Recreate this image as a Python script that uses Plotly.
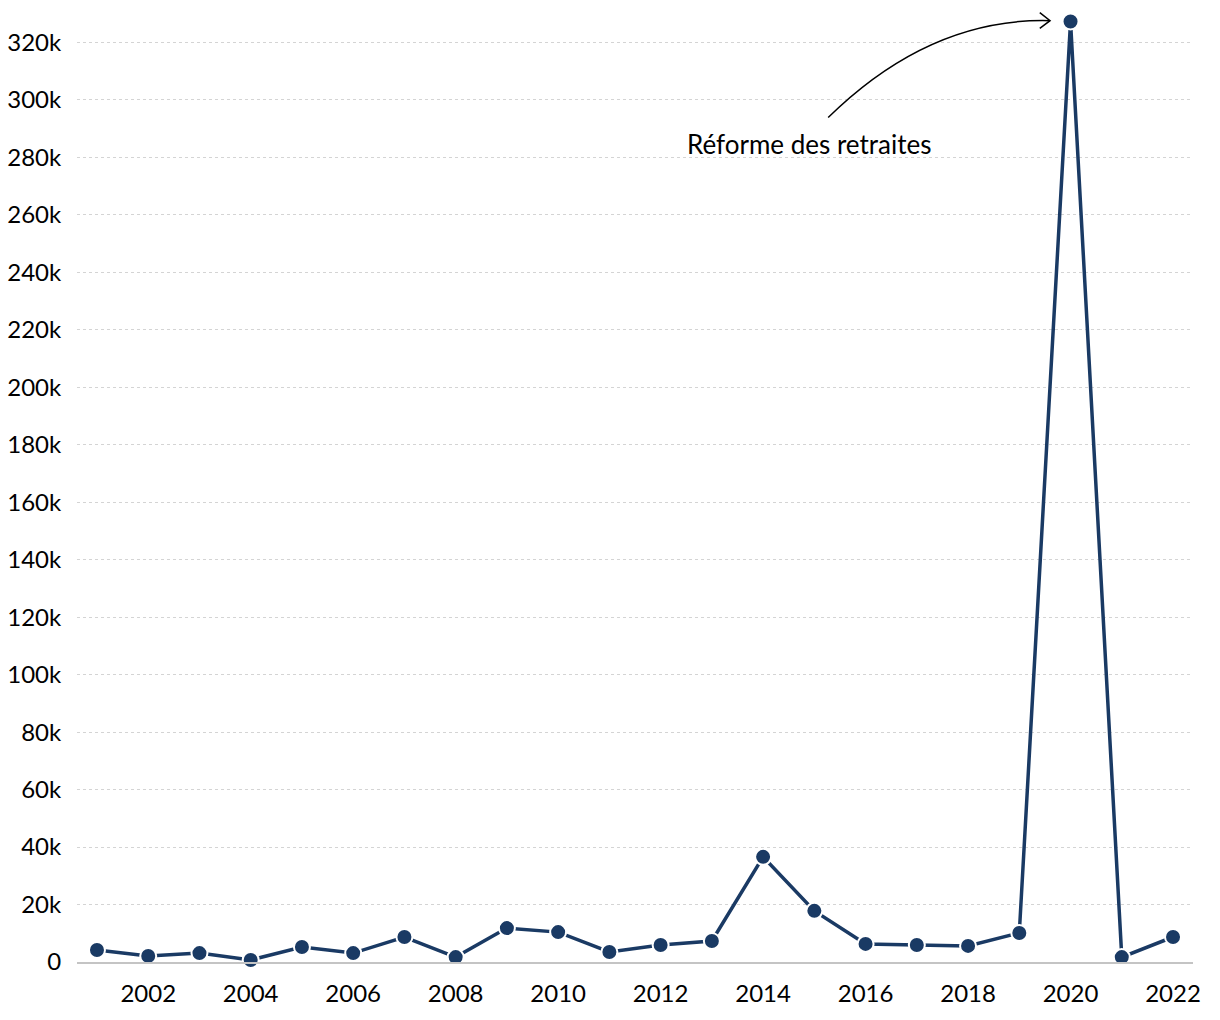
import plotly.graph_objects as go

years = list(range(2001, 2023))
values = [4200, 2100, 3100, 700, 5200, 3100, 8700, 1700, 11800, 10400, 3500, 5900,
          7300, 36600, 17800, 6300, 5900, 5600, 10100, 327300, 1700, 8700]

annot_text = "Réforme des retraites"
color = "#1a3a64"
font = "Source Sans Pro, Lato, sans-serif"

fig = go.Figure()
fig.add_trace(go.Scatter(
    x=years, y=values, mode="lines+markers",
    line=dict(color=color, width=3.5),
    marker=dict(size=16, color=color, line=dict(color="white", width=2)),
    cliponaxis=False, hoverinfo="x+y"
))

# curved arrow (quadratic bezier) from label to peak
sx, sy = 2015.27, 293900
cx, cy = 2017.26, 328700
ex, ey = 2019.60, 327600
fig.add_shape(type="path", xref="x", yref="y",
              path=f"M {sx},{sy} Q {cx},{cy} {ex},{ey}",
              line=dict(color="black", width=1.5), layer="above")
fig.add_shape(type="path", xref="x", yref="y",
              path=f"M 2019.40,330400 L {ex},{ey} L 2019.40,324900",
              line=dict(color="black", width=1.5), layer="above")

fig.add_annotation(x=2014.90, y=284500, text=annot_text, showarrow=False,
                   font=dict(family=font, size=26, color="black"),
                   xanchor="center", yanchor="middle")

fig.update_layout(
    width=1220, height=1020,
    margin=dict(l=77, r=27, t=8, b=58),
    plot_bgcolor="white", paper_bgcolor="white",
    showlegend=False,
    font=dict(family=font, size=24, color="black"),
    xaxis=dict(range=[2000.61, 2022.39], tickmode="linear", tick0=2002, dtick=2,
               showgrid=False, zeroline=False, showline=True, linecolor="#c4c4c4",
               linewidth=2, ticks="outside", ticklen=9, tickcolor="rgba(0,0,0,0)",
               tickfont=dict(family=font, size=24, color="black")),
    yaxis=dict(range=[0, 332000], tickmode="linear", tick0=0, dtick=20000,
               tickformat="~s", showgrid=True, gridcolor="#d4d4d4", griddash="dot",
               gridwidth=1.2, zeroline=False, showline=False,
               ticks="outside", ticklen=10, tickcolor="rgba(0,0,0,0)",
               tickfont=dict(family=font, size=24, color="black")),
)

fig.write_html("out.html")
